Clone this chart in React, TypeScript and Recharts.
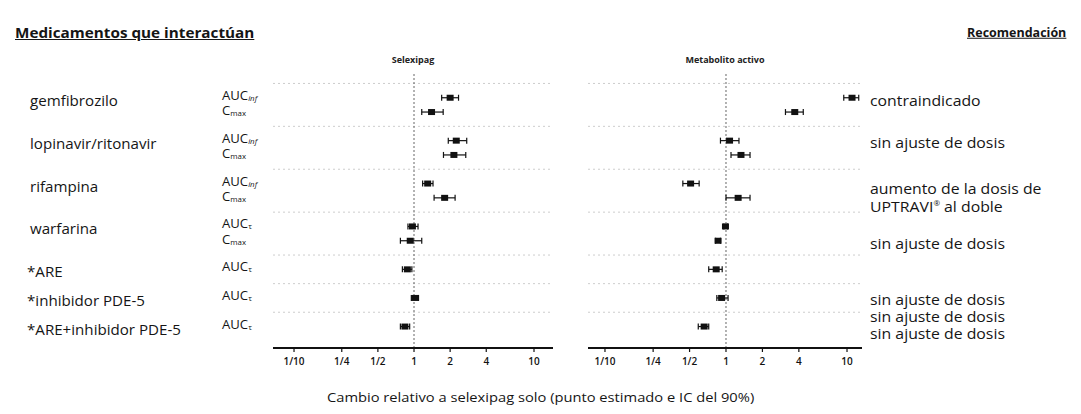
import React from "react";
import { ScatterChart, Scatter, XAxis, YAxis, ErrorBar, ReferenceLine } from "recharts";

// drugs and the PK parameters measured for each
const drugs = [
  "gemfibrozilo",
  "lopinavir/ritonavir",
  "rifampina",
  "warfarina",
  "*ARE",
  "*inhibidor PDE-5",
  "*ARE+inhibidor PDE-5",
];
const drugParams = [
  ["inf", "max"],
  ["inf", "max"],
  ["inf", "max"],
  ["tau", "max"],
  ["tau"],
  ["tau"],
  ["tau"],
];
const recommendations = [
  ["contraindicado"],
  ["sin ajuste de dosis"],
  ["aumento de la dosis de", "UPTRAVI® al doble"],
  ["sin ajuste de dosis"],
  ["sin ajuste de dosis"],
  ["sin ajuste de dosis"],
  ["sin ajuste de dosis"],
];

// ratios (point estimate and 90% CI), one entry per parameter row
const selexipagEst = [2.0, 1.4, 2.25, 2.15, 1.3, 1.8, 0.97, 0.93, 0.88, 1.02, 0.84];
const selexipagLow = [1.7, 1.16, 1.93, 1.76, 1.18, 1.47, 0.89, 0.77, 0.8, 0.95, 0.77];
const selexipagHigh = [2.35, 1.75, 2.75, 2.7, 1.44, 2.2, 1.08, 1.16, 0.96, 1.09, 0.92];

const metaboliteEst = [11, 3.7, 1.07, 1.33, 0.51, 1.26, 0.99, 0.86, 0.83, 0.92, 0.66];
const metaboliteLow = [9.4, 3.1, 0.9, 1.1, 0.44, 1.0, 0.96, 0.82, 0.72, 0.84, 0.59];
const metaboliteHigh = [12.5, 4.35, 1.28, 1.58, 0.6, 1.58, 1.03, 0.9, 0.93, 1.04, 0.72];

const tickValues = [0.1, 0.25, 0.5, 1, 2, 4, 10];
const tickLabels = ["1/10", "1/4", "1/2", "1", "2", "4", "10"];

const FONT = "'Open Sans', 'DejaVu Sans', sans-serif";
const PLOT_TOP = 72;
const PLOT_BOTTOM = 348;
const Y_DOMAIN: [number, number] = [-1.8, 17.5];

// one slot per parameter row, plus an empty slot in front of every drug
const slots: number[] = [];
const groupSlots: number[] = [];
const separators: number[] = [];
{
  let s = -2;
  drugParams.forEach((params) => {
    s += 1;
    separators.push(s);
    groupSlots.push(s + 1);
    params.forEach(() => {
      s += 1;
      slots.push(s);
    });
  });
}

const slotY = (s: number) =>
  PLOT_TOP + ((s - Y_DOMAIN[0]) / (Y_DOMAIN[1] - Y_DOMAIN[0])) * (PLOT_BOTTOM - PLOT_TOP);

const Square = (props: any) => {
  const { cx, cy } = props;
  if (cx == null || cy == null) return null;
  return <rect x={cx - 3.5} y={cy - 3} width={7} height={6} fill="#111" />;
};

function Panel({ est, low, high, left, width, domain, title }: any) {
  const data = slots.map((s, i) => ({
    x: est[i],
    y: s,
    err: [est[i] - low[i], high[i] - est[i]],
  }));
  return (
    <div style={{ position: "absolute", left, top: 0 }}>
      <ScatterChart width={width} height={414} margin={{ top: PLOT_TOP, right: 10, bottom: 414 - PLOT_BOTTOM - 30, left: 10 }}>
        <XAxis
          type="number"
          dataKey="x"
          scale="log"
          domain={domain}
          allowDataOverflow
          ticks={tickValues}
          interval={0}
          tickFormatter={(v: number) => tickLabels[tickValues.indexOf(v)]}
          height={30}
          axisLine={{ stroke: "#111", strokeWidth: 1.8 }}
          tickLine={{ stroke: "#111", strokeWidth: 1.2 }}
          tickSize={4}
          tickMargin={6}
          tick={{ fontSize: 10, fill: "#111", fontFamily: FONT, fontWeight: 600 }}
        />
        <YAxis type="number" dataKey="y" domain={Y_DOMAIN} reversed hide allowDataOverflow />
        {separators.map((s) => (
          <ReferenceLine key={s} y={s} stroke="#cdcdcd" strokeDasharray="2 3" strokeWidth={1} />
        ))}
        <ReferenceLine x={1} stroke="#666" strokeDasharray="2 2" strokeWidth={1} />
        <Scatter data={data} isAnimationActive={false} shape={Square}>
          <ErrorBar dataKey="err" direction="x" width={3} stroke="#111" strokeWidth={1.2} isAnimationActive={false} />
        </Scatter>
      </ScatterChart>
      <div
        style={{
          position: "absolute",
          left: 0,
          width,
          top: 55,
          textAlign: "center",
          fontFamily: FONT,
          fontSize: 9,
          fontWeight: 700,
          color: "#222",
          lineHeight: "10px",
        }}
      >
        {title}
      </div>
    </div>
  );
}

const txt = (extra: any, stretch = 1): any => ({
  position: "absolute",
  fontFamily: FONT,
  color: "#151515",
  whiteSpace: "nowrap",
  lineHeight: 1,
  transformOrigin: "left center",
  transform: `translateY(-50%) scaleX(${stretch})`,
  ...extra,
});

function ParamLabel({ code }: { code: string }) {
  const base = code === "max" ? "C" : "AUC";
  const sub = code === "inf" ? "inf" : code === "tau" ? "τ" : "max";
  return (
    <span>
      {base}
      <sub style={{ fontSize: 7.5, fontStyle: code === "inf" ? "italic" : "normal", verticalAlign: "-1px", lineHeight: 1 }}>{sub}</sub>
    </span>
  );
}

export default function App() {
  const recY = [101, 143, 189, 244, 300, 317, 334];
  let rowIdx = 0;
  const paramLabels: any[] = [];
  drugParams.forEach((params, g) => {
    params.forEach((p, j) => {
      const y = slotY(slots[rowIdx]) + (j === 0 ? -2 : -1);
      paramLabels.push(
        <div key={`p${g}-${j}`} style={txt({ left: 222, top: y, fontSize: 12.5 }, 1.05)}>
          <ParamLabel code={p} />
        </div>
      );
      rowIdx += 1;
    });
  });

  return (
    <div style={{ position: "absolute", left: 0, top: 0, width: 1081, height: 414, background: "#fff", overflow: "hidden" }}>
      <div style={txt({ left: 15, top: 33, fontSize: 14, fontWeight: 700, textDecoration: "underline" }, 1.09)}>
        Medicamentos que interactúan
      </div>
      <div style={txt({ left: 967, top: 33, fontSize: 12.5, fontWeight: 700, textDecoration: "underline" })}>
        Recomendación
      </div>

      {drugs.map((d, g) => (
        <div key={d} style={txt({ left: d.startsWith("*") ? 27 : 30, top: slotY(groupSlots[g]) + 3, fontSize: 14 }, 1.08)}>
          {d}
        </div>
      ))}
      {paramLabels}

      <Panel est={selexipagEst} low={selexipagLow} high={selexipagHigh} left={263} width={300} domain={[0.0668, 14.4]} title="Selexipag" />
      <Panel est={metaboliteEst} low={metaboliteLow} high={metaboliteHigh} left={578} width={294} domain={[0.0724, 13.3]} title="Metabolito activo" />

      {recommendations.map((lines, g) =>
        lines.map((line, j) => (
          <div key={`r${g}-${j}`} style={txt({ left: 870, top: recY[g] + j * 18, fontSize: 14 }, 1.13)}>
            {line.includes("®") ? (
              <>
                UPTRAVI<sup style={{ fontSize: 7 }}>®</sup>
                {line.split("®")[1]}
              </>
            ) : (
              line
            )}
          </div>
        ))
      )}

      <div style={txt({ left: 327, top: 397, fontSize: 13 }, 1.13)}>
        Cambio relativo a selexipag solo (punto estimado e IC del 90%)
      </div>
    </div>
  );
}
